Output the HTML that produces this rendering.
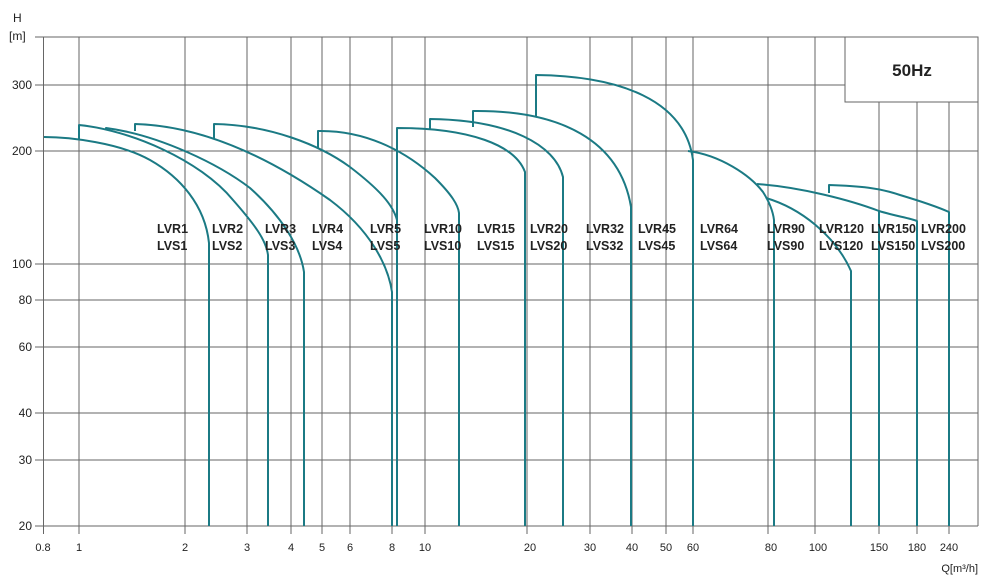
<!DOCTYPE html>
<html><head><meta charset="utf-8"><style>
html,body{margin:0;padding:0;background:#fff;}
svg{display:block;font-family:"Liberation Sans",Arial,sans-serif;}
</style></head><body>
<svg width="1000" height="579" viewBox="0 0 1000 579" xmlns="http://www.w3.org/2000/svg">
<g stroke="#666" stroke-width="1" fill="none">
<line x1="43" y1="37" x2="978" y2="37"/>
<line x1="43" y1="85" x2="845" y2="85"/>
<line x1="43" y1="151" x2="978" y2="151"/>
<line x1="43" y1="264" x2="978" y2="264"/>
<line x1="43" y1="300" x2="978" y2="300"/>
<line x1="43" y1="347" x2="978" y2="347"/>
<line x1="43" y1="413" x2="978" y2="413"/>
<line x1="43" y1="460" x2="978" y2="460"/>
<line x1="35" y1="526" x2="978" y2="526"/>
<line x1="35" y1="85" x2="43" y2="85"/>
<line x1="35" y1="151" x2="43" y2="151"/>
<line x1="35" y1="264" x2="43" y2="264"/>
<line x1="35" y1="300" x2="43" y2="300"/>
<line x1="35" y1="347" x2="43" y2="347"/>
<line x1="35" y1="413" x2="43" y2="413"/>
<line x1="35" y1="460" x2="43" y2="460"/>
<line x1="35" y1="37" x2="43" y2="37"/>
<line x1="43.5" y1="37" x2="43.5" y2="534"/>
<line x1="79" y1="37" x2="79" y2="534"/>
<line x1="185" y1="37" x2="185" y2="534"/>
<line x1="247" y1="37" x2="247" y2="534"/>
<line x1="291" y1="37" x2="291" y2="534"/>
<line x1="322" y1="37" x2="322" y2="534"/>
<line x1="350" y1="37" x2="350" y2="534"/>
<line x1="392" y1="37" x2="392" y2="534"/>
<line x1="425" y1="37" x2="425" y2="534"/>
<line x1="527" y1="37" x2="527" y2="534"/>
<line x1="590" y1="37" x2="590" y2="534"/>
<line x1="632" y1="37" x2="632" y2="534"/>
<line x1="666" y1="37" x2="666" y2="534"/>
<line x1="693" y1="37" x2="693" y2="534"/>
<line x1="768" y1="37" x2="768" y2="534"/>
<line x1="815" y1="37" x2="815" y2="534"/>
<line x1="879" y1="102" x2="879" y2="534"/>
<line x1="917" y1="102" x2="917" y2="534"/>
<line x1="949" y1="102" x2="949" y2="534"/>
<line x1="978" y1="37" x2="978" y2="526"/>
</g>
<rect x="845" y="37" width="133" height="65" fill="#fff" stroke="#666" stroke-width="1"/>
<text x="912" y="76" font-size="17" font-weight="bold" text-anchor="middle" fill="#222">50Hz</text>
<g font-size="12" fill="#222" text-anchor="end">
<text x="32" y="89">300</text><text x="32" y="155">200</text><text x="32" y="268">100</text>
<text x="32" y="304">80</text><text x="32" y="351">60</text><text x="32" y="417">40</text>
<text x="32" y="464">30</text><text x="32" y="530">20</text>
</g>
<text x="13" y="22" font-size="12" fill="#222">H</text>
<text x="9" y="40" font-size="12" fill="#222">[m]</text>
<g font-size="11" fill="#222" text-anchor="middle">
<text x="43" y="551">0.8</text><text x="79" y="551">1</text><text x="185" y="551">2</text>
<text x="247" y="551">3</text><text x="291" y="551">4</text><text x="322" y="551">5</text>
<text x="350" y="551">6</text><text x="392" y="551">8</text><text x="425" y="551">10</text>
<text x="530" y="551">20</text><text x="590" y="551">30</text><text x="632" y="551">40</text>
<text x="666" y="551">50</text><text x="693" y="551">60</text><text x="771" y="551">80</text>
<text x="818" y="551">100</text><text x="879" y="551">150</text><text x="917" y="551">180</text>
<text x="949" y="551">240</text>
</g>
<text x="978" y="572" font-size="11" fill="#222" text-anchor="end">Q[m³/h]</text>
<g stroke="#1b7a84" stroke-width="2" fill="none" stroke-linejoin="round">
<path d="M44,137 C70,137 120,143 150,160 C180,177 205,205 209,243 L209,526"/>
<path d="M79,139 L79,125 C130,130 200,160 233,200 C255,225 266,240 268,255 L268,526"/>
<path d="M106,130 L106,128 C160,135 220,165 250,188 C280,215 300,245 304,272 L304,526"/>
<path d="M135,131 L135,124 C210,126 280,165 330,200 C370,230 388,265 392,292 L392,526"/>
<path d="M214,139 L214,124 C270,125 320,145 350,167 C380,190 393,205 397,220"/>
<path d="M318,148 L318,131 C370,130 410,155 435,178 C452,195 458,205 459,213 L459,526"/>
<path d="M397,526 L397,128 C470,128 515,145 525,172 L525,526"/>
<path d="M430,130 L430,119 C510,120 555,145 563,177 L563,526"/>
<path d="M473,127 L473,111 C560,110 620,140 631,207 L631,526"/>
<path d="M536,117 L536,75 C620,76 685,100 693,160 L693,526"/>
<path d="M688,151 C720,155 750,175 763,192 C770,203 773,212 774,220 L774,526"/>
<path d="M757,184 C800,187 850,200 879,211 C895,216 910,218 917,221 L917,526"/>
<path d="M879,211 L879,526"/>
<path d="M766,198 C800,208 835,235 851,271 L851,526"/>
<path d="M829,193 L829,185 C860,186 880,188 900,195 C920,201 940,208 949,212 L949,526"/>
</g>
<g font-size="12.5" font-weight="bold" fill="#222">
<text x="157" y="233">LVR1</text><text x="157" y="250">LVS1</text>
<text x="212" y="233">LVR2</text><text x="212" y="250">LVS2</text>
<text x="265" y="233">LVR3</text><text x="265" y="250">LVS3</text>
<text x="312" y="233">LVR4</text><text x="312" y="250">LVS4</text>
<text x="370" y="233">LVR5</text><text x="370" y="250">LVS5</text>
<text x="424" y="233">LVR10</text><text x="424" y="250">LVS10</text>
<text x="477" y="233">LVR15</text><text x="477" y="250">LVS15</text>
<text x="530" y="233">LVR20</text><text x="530" y="250">LVS20</text>
<text x="586" y="233">LVR32</text><text x="586" y="250">LVS32</text>
<text x="638" y="233">LVR45</text><text x="638" y="250">LVS45</text>
<text x="700" y="233">LVR64</text><text x="700" y="250">LVS64</text>
<text x="767" y="233">LVR90</text><text x="767" y="250">LVS90</text>
<text x="819" y="233">LVR120</text><text x="819" y="250">LVS120</text>
<text x="871" y="233">LVR150</text><text x="871" y="250">LVS150</text>
<text x="921" y="233">LVR200</text><text x="921" y="250">LVS200</text>
</g>
</svg>
</body></html>
